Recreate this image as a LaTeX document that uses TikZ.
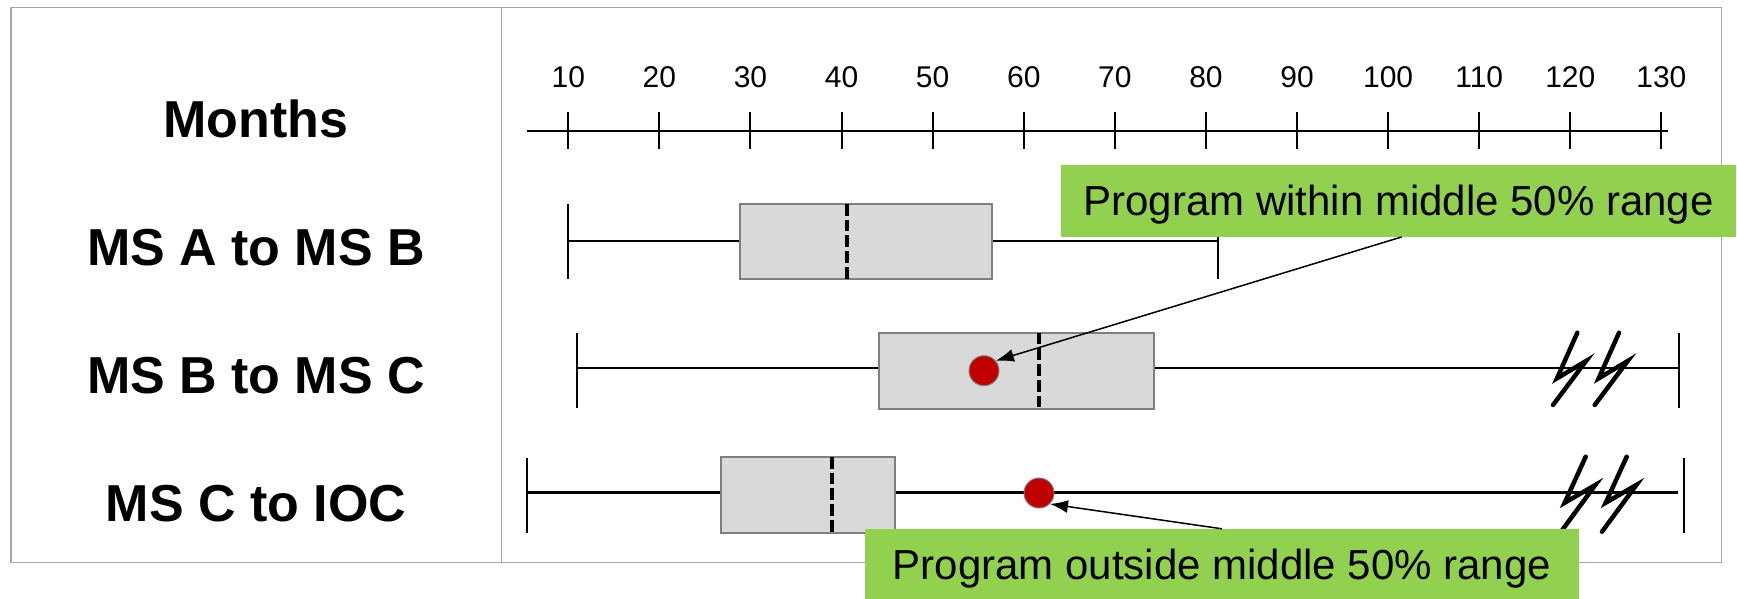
\documentclass[tikz,border=0pt]{standalone}
\usepackage{fontspec}
\setmainfont{Liberation Sans}
\usetikzlibrary{arrows.meta}
\definecolor{framegray}{RGB}{166,166,166}
\definecolor{boxfill}{RGB}{217,217,217}
\definecolor{boxline}{RGB}{127,127,127}
\definecolor{callout}{RGB}{146,208,80}
\definecolor{dotred}{RGB}{192,0,0}
\begin{document}
\begin{tikzpicture}[x=1pt,y=-1pt,
  framel/.style={draw=framegray,line width=1.5pt},
  qbox/.style={draw=boxline,fill=boxfill,line width=2pt},
  whisk/.style={line width=2.5pt},
  capl/.style={line width=2pt},
  med/.style={line width=4pt,dash pattern=on 11.7pt off 4pt},
  brk/.style={line width=4.5pt,line cap=round,line join=miter},
  rowlab/.style={font=\fontsize{52}{60}\selectfont\bfseries,anchor=base},
  ticklab/.style={font=\fontsize{30}{36}\selectfont,anchor=base},
  callbox/.style={fill=callout,inner sep=0pt,text height=30pt,text depth=0pt,font=\fontsize{42}{50}\selectfont},
  ptdot/.style={circle,fill=dotred,draw=boxline,line width=1pt,minimum size=30pt,inner sep=0pt},
  callarrow/.style={line width=1.5pt,-{Latex[length=18pt,width=13pt]}}
]
\useasboundingbox (0,0) rectangle (1737,598);
% frame
\draw[framel] (11,7.5) rectangle (1721.7,562.7);
\draw[framel] (501.7,7.5) -- (501.7,562.7);
% row labels
\node[rowlab] (lm) at (256,137) {Months};
\node[rowlab] (l1) at (256,265.5) {MS A to MS B};
\node[rowlab] (l2) at (256,393) {MS B to MS C};
\node[rowlab] (l3) at (256,521.5) {MS C to IOC};
% axis
\draw[line width=2pt] (526.8,131) -- (1668,131);
\foreach \v [evaluate=\v as \x using {568.3+(\v-10)*9.109}] in {10,20,...,130}{
  \draw[line width=2pt] (\x,111.7) -- (\x,149.3);
  \node[ticklab] at (\x,87) {\v};
}
% row 1
\draw[whisk] (568.3,241) -- (1218,241);
\draw[capl] (568.3,204) -- (568.3,279);
\draw[capl] (1218,204) -- (1218,279);
\draw[qbox] (739.7,204) rectangle (992,279);
\draw[med] (847,204) -- (847,279);
% row 2
\draw[whisk] (577,368) -- (1679.3,368);
\draw[capl] (577,333) -- (577,408);
\draw[capl] (1679.3,333) -- (1679.3,408);
\draw[qbox] (878.6,332.7) rectangle (1154,408.7);
\draw[med] (1039,332.7) -- (1039,408.7);
\node[ptdot] (d2) at (984,370.7) {};
\draw[brk] (1577.3,332.7) -- (1557,378.3) -- (1586,361) -- (1553,405);
\draw[brk] (1619,332.7) -- (1598.7,378.3) -- (1627.7,361) -- (1594.7,405);
% row 3
\draw[whisk] (526.5,492.7) -- (1678,492.7);
\draw[capl] (526.5,457.7) -- (526.5,532.7);
\draw[capl] (1684,458) -- (1684,533);
\draw[qbox] (721,457) rectangle (895.4,533);
\draw[med] (831.6,457) -- (831.6,533);
\node[ptdot] (d3) at (1039,493) {};
\draw[brk] (1585.7,456.7) -- (1564.7,502.7) -- (1595.3,485) -- (1561,531.7);
\draw[brk] (1626.7,456.7) -- (1605.7,502.7) -- (1636.3,485) -- (1602,531.7);
% callouts
\node[callbox,minimum width=675pt,minimum height=71.7pt] (c1) at (1398.6,200.9) {Program within middle 50\% range};
\node[callbox,minimum width=714pt,minimum height=71.7pt] (c2) at (1222,564.85) {Program outside middle 50\% range};
\draw[callarrow] ([xshift=3pt]c1.south) -- (d2.40);
\draw[callarrow] (c2.north) -- (d3.-45);
\end{tikzpicture}
\end{document}
